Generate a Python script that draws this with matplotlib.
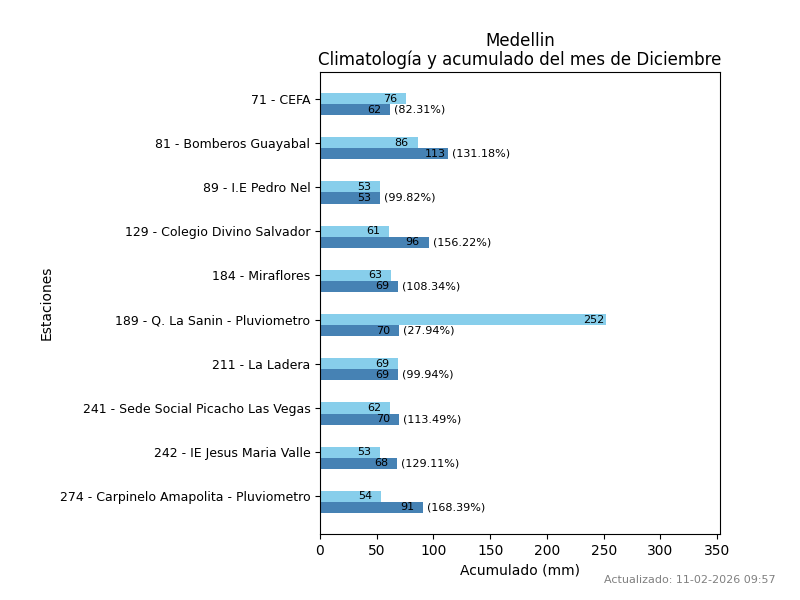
import matplotlib
matplotlib.use("Agg")
import matplotlib.pyplot as plt
import numpy as np

estaciones = [
    "71 - CEFA",
    "81 - Bomberos Guayabal",
    "89 - I.E Pedro Nel",
    "129 - Colegio Divino Salvador",
    "184 - Miraflores",
    "189 - Q. La Sanin - Pluviometro",
    "211 - La Ladera",
    "241 - Sede Social Picacho Las Vegas",
    "242 - IE Jesus Maria Valle",
    "274 - Carpinelo Amapolita - Pluviometro",
]
climatologia = [76, 86, 53, 61, 63, 252, 69, 62, 53, 54]
acumulado = [62, 113, 53, 96, 69, 70, 69, 70, 68, 91]
porcentaje = ["82.31", "131.18", "99.82", "156.22", "108.34", "27.94", "99.94", "113.49", "129.11", "168.39"]

fig, ax = plt.subplots(figsize=(8, 6), dpi=100)
fig.subplots_adjust(left=0.4, right=0.9, top=0.88, bottom=0.11)

y = np.arange(len(estaciones))
h = 0.25
ax.barh(y, climatologia, height=h, color="skyblue")
ax.barh(y + h, acumulado, height=h, color="steelblue")

for i in range(len(estaciones)):
    ax.text(climatologia[i] - 20.5, y[i], f"{climatologia[i]}", ha="left", va="center", fontsize=8)
    ax.text(acumulado[i] - 20.5, y[i] + h, f"{acumulado[i]}", ha="left", va="center", fontsize=8)
    ax.text(acumulado[i] + 3.5, y[i] + h, f"({porcentaje[i]}%)", ha="left", va="center", fontsize=8)

ax.set_yticks(y)
ax.set_yticklabels(estaciones, fontsize=9)
ax.invert_yaxis()
ax.set_xlim(0, 352.5)
ax.set_xlabel("Acumulado (mm)")
ax.set_ylabel("Estaciones")
ax.set_title("Medellin\nClimatología y acumulado del mes de Diciembre", linespacing=1.05, pad=5)

fig.text(0.97, 0.025, "Actualizado: 11-02-2026 09:57", ha="right", va="bottom", fontsize=8, color="gray")

fig.savefig("out.png", dpi=100)
